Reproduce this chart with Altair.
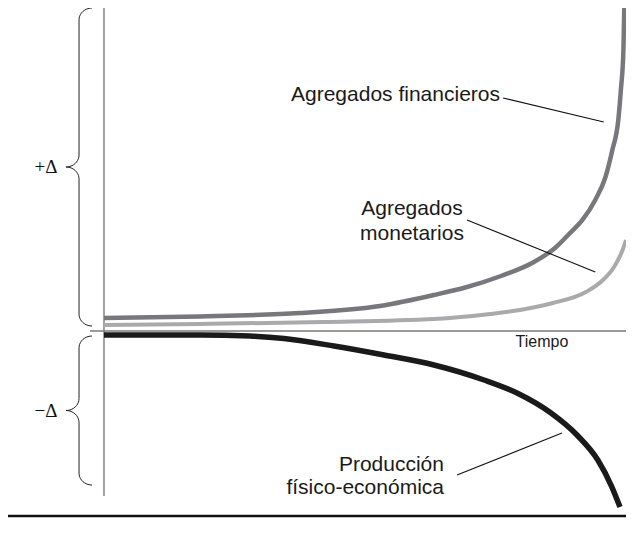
import math
import altair as alt
import pandas as pd

# ---- series (x: tiempo, y: variación; 0 = eje horizontal) ----
fin_t = [0, 18.18, 37.12, 52.27, 62.50, 68.75, 75.19, 81.44, 85.42, 88.26, 90.72, 93.56, 95.83, 97.35, 98.67, 99.24, 99.81, 100.0]
fin_v = [4.02, 4.49, 5.57, 7.74, 11.15, 13.62, 17.03, 21.36, 25.70, 30.34, 34.37, 40.56, 47.68, 56.04, 65.33, 74.61, 87.00, 100.0]

mon_t = [0, 18.18, 41.48, 62.50, 73.11, 78.79, 85.04, 91.48, 95.27, 97.73, 99.62, 100.38]
mon_v = [1.86, 2.17, 2.79, 3.72, 5.26, 6.50, 8.67, 12.07, 15.79, 19.81, 25.08, 28.17]

prod_t = [0, 18.18, 27.65, 34.09, 43.56, 53.03, 62.50, 71.97, 78.22, 84.66, 89.58, 94.13, 97.16, 99.05]
prod_v = [-1.24, -1.24, -1.55, -2.32, -4.64, -7.43, -10.53, -15.17, -19.20, -25.39, -32.20, -39.94, -47.99, -54.49]

series_names = ["Agregados financieros", "Agregados monetarios", "Producción físico-económica"]
series_colors = ["#78787c", "#aaaaac", "#1a1a1a"]
series_widths = [4.5, 4.0, 5.5]

# labels
label_text = ["Agregados financieros", "Agregados", "monetarios", "Producción", "físico-económica"]
label_t = [35.42, 58.33, 58.33, 64.39, 64.39]
label_v = [73.07, 37.77, 30.03, -41.49, -48.61]
label_align = ["left", "center", "center", "right", "right"]

# leader lines
lead_t = [75.57, 68.75, 66.86]
lead_v = [72.14, 34.37, -44.58]
lead_t2 = [95.45, 93.56, 86.74]
lead_v2 = [64.71, 18.27, -31.58]

# domains
X_MIN, X_BREAK, X_MAX = -18.18, 90.0, 100.38
Y_MIN, Y_MAX = -60.99, 100.0
W, H = 618, 520

xs = alt.Scale(domain=[X_MIN, X_BREAK, X_MAX], range=[0, 571.2, W], nice=False, zero=False)
ys = alt.Scale(domain=[Y_MIN, Y_MAX], nice=False, zero=False)

rows = []
for name, tt, vv in [(series_names[0], fin_t, fin_v), (series_names[1], mon_t, mon_v), (series_names[2], prod_t, prod_v)]:
    for i, (a, b) in enumerate(zip(tt, vv)):
        rows.append({"serie": name, "t": a, "v": b, "i": i})
curves_df = pd.DataFrame(rows)


def curve(name, color, width):
    return alt.Chart(curves_df).transform_filter(alt.datum.serie == name).mark_line(
        color=color, strokeWidth=width, interpolate="monotone", strokeCap="butt", clip=True
    ).encode(
        x=alt.X("t:Q", scale=xs, axis=None),
        y=alt.Y("v:Q", scale=ys, axis=None),
        order="i:Q",
    )


# axis lines and bottom rule
axis_df = pd.DataFrame({
    "x": [0.0, -2.65, X_MIN],
    "x2": [0.0, X_MAX, X_MAX],
    "y": [100.0, 0.0, -57.28],
    "y2": [-51.1, 0.0, -57.28],
    "c": ["#444444", "#7a7a7a", "#111111"],
    "w": [1.0, 1.6, 2.5],
    "k": ["v", "h", "b"],
})
axes = []
for k in ["v", "h", "b"]:
    sub = axis_df[axis_df.k == k]
    r = sub.iloc[0]
    axes.append(
        alt.Chart(sub).mark_rule(color=r.c, strokeWidth=float(r.w)).encode(
            x=alt.X("x:Q", scale=xs, axis=None), x2="x2:Q",
            y=alt.Y("y:Q", scale=ys, axis=None), y2="y2:Q",
        )
    )

# braces spanning the positive and negative ranges
brace_top = [100.0, -1.55]
brace_bot = [1.55, -47.68]
brace_names = ["+Δ", "−Δ"]
SPINE_T = -4.73
RX = 2.46
RY = 3.7


def brace_points(ytop, ybot):
    ymid = (ytop + ybot) / 2
    pts = []

    def arc(cx, cy, a0, a1, n=10):
        for j in range(n + 1):
            a = math.radians(a0 + (a1 - a0) * j / n)
            pts.append((cx + RX * math.cos(a), cy + RY * math.sin(a)))
    arc(SPINE_T + RX, ytop - RY, 90, 180)
    arc(SPINE_T - RX, ymid + RY, 0, -90)
    arc(SPINE_T - RX, ymid - RY, 90, 0)
    arc(SPINE_T + RX, ybot + RY, 180, 270)
    return pts, ymid


brows = []
sym_rows = []
for name, yt, yb in zip(brace_names, brace_top, brace_bot):
    pts, ymid = brace_points(yt, yb)
    for i, (a, b) in enumerate(pts):
        brows.append({"b": name, "t": a, "v": b, "i": i})
    sym_rows.append({"s": name, "t": -10.98, "v": ymid})
brace_df = pd.DataFrame(brows)
sym_df = pd.DataFrame(sym_rows)

braces = alt.Chart(brace_df).mark_line(color="#222222", strokeWidth=1.0).encode(
    x=alt.X("t:Q", scale=xs, axis=None),
    y=alt.Y("v:Q", scale=ys, axis=None),
    detail="b:N",
    order="i:Q",
)
syms = alt.Chart(sym_df).mark_text(font="Liberation Serif", fontSize=19, color="#111111", align="center", baseline="middle").encode(
    x=alt.X("t:Q", scale=xs, axis=None),
    y=alt.Y("v:Q", scale=ys, axis=None),
    text="s:N",
)

lab_df = pd.DataFrame({"txt": label_text, "t": label_t, "v": label_v, "al": label_align})
labels = []
for al in ["left", "center", "right"]:
    labels.append(
        alt.Chart(lab_df[lab_df.al == al]).mark_text(
            font="Liberation Sans", fontSize=21, color="#1a1a1a", align=al, baseline="middle"
        ).encode(
            x=alt.X("t:Q", scale=xs, axis=None),
            y=alt.Y("v:Q", scale=ys, axis=None),
            text="txt:N",
        )
    )

tiempo = alt.Chart(pd.DataFrame({"txt": ["Tiempo"], "t": [82.95], "v": [-3.41]})).mark_text(
    font="Liberation Sans", fontSize=16, color="#1a1a1a", align="center", baseline="middle"
).encode(
    x=alt.X("t:Q", scale=xs, axis=None),
    y=alt.Y("v:Q", scale=ys, axis=None),
    text="txt:N",
)

lead_df = pd.DataFrame({"t": lead_t, "v": lead_v, "t2": lead_t2, "v2": lead_v2})
leaders = alt.Chart(lead_df).mark_rule(color="#111111", strokeWidth=1.1).encode(
    x=alt.X("t:Q", scale=xs, axis=None), x2="t2:Q",
    y=alt.Y("v:Q", scale=ys, axis=None), y2="v2:Q",
)

layers = axes + [
    curve(series_names[1], series_colors[1], series_widths[1]),
    curve(series_names[0], series_colors[0], series_widths[0]),
    curve(series_names[2], series_colors[2], series_widths[2]),
    braces, syms, leaders, tiempo,
] + labels

chart = alt.layer(*layers).properties(
    width=W, height=H, autosize="none", padding=0, background="white"
).configure_view(stroke=None)

chart.save("out.html", embed_options={"renderer": "svg", "actions": False})
